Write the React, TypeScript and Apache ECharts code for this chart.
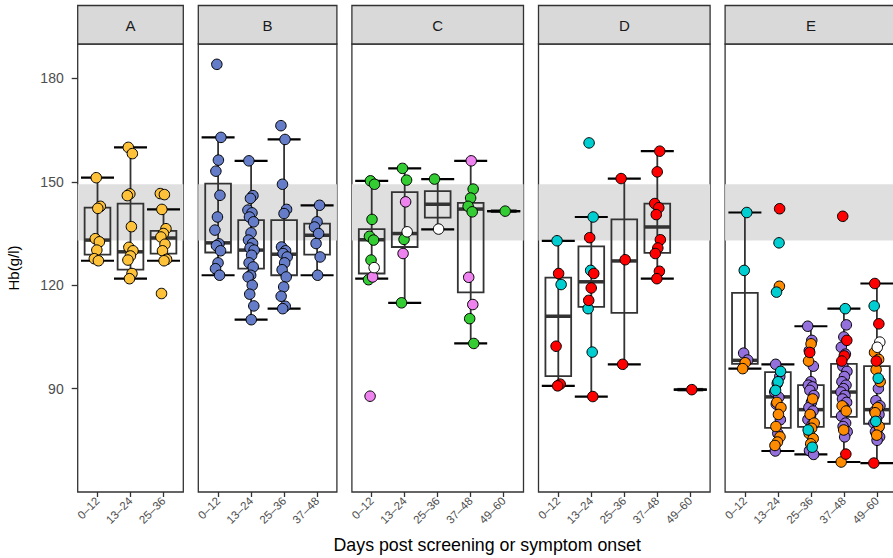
import React, { useEffect, useRef } from "react";
import * as echarts from "echarts";

const FONT = "'Liberation Sans', Arial, Helvetica, sans-serif";

// ---------- categories / labels ----------
const panelNames = ["A", "B", "C", "D", "E"];
const catsA = ["0–12", "13–24", "25–36"];
const catsB = ["0–12", "13–24", "25–36", "37–48"];
const catsC = ["0–12", "13–24", "25–36", "37–48", "49–60"];
const catsD = ["0–12", "13–24", "25–36", "37–48", "49–60"];
const catsE = ["0–12", "13–24", "25–36", "37–48", "49–60"];
const yTicks = [90, 120, 150, 180];
const yRange = [60, 190];
const refBand = [133, 149.3];
const xTitle = "Days post screening or symptom onset";
const yTitle = "Hb(g/l)";

// ---------- panel A ----------
const aYellow = [
  [151.2, 142.9, 142.3, 133.5, 132.6, 130.2, 127.7, 127.1],
  [160, 158.2, 146.5, 146, 137, 131, 130, 128.5, 127.3, 123.4, 121.9],
  [146.6, 146.3, 142, 136.4, 135, 134, 131.9, 130, 127.5, 127.1, 117.6],
];
const aBox = [
  [127.1, 128.9, 133.1, 142.5, 151.2],
  [121.9, 124.5, 129.7, 143.7, 160],
  [127.1, 129.2, 133.7, 135.8, 142],
];

// ---------- panel B ----------
const bBlue = [
  [184.1, 162.9, 156.3, 153.1, 146.1, 139.8, 136, 132, 131.5, 130, 126.5, 124.8, 122.9],
  [156.1, 146, 145.2, 141.8, 141, 139.8, 138.4, 135.2, 133.1, 132.1, 130.8, 130.2, 128.7, 126.5, 125.3, 122.9, 122.4, 120, 117.4, 114, 110],
  [166.3, 162.3, 149.3, 142, 140.8, 131.1, 130, 129.2, 128.2, 126.5, 124.5, 122.4, 119.5, 116.8, 113.9, 113.2],
  [143.2, 138.4, 136.9, 135, 132.1, 128.2, 122.9],
];
const bBox = [
  [122.9, 129.5, 132.3, 149.5, 162.9],
  [110, 124.8, 130.2, 138.9, 156.1],
  [113.2, 122.9, 129, 138.9, 162.3],
  [122.9, 128.9, 134.5, 137.9, 143.2],
];

// ---------- panel C ----------
const cGreen = [
  [150.3, 149.3, 139.1, 134.2, 133.1, 127.3, 121.6],
  [153.9, 150.5, 133.3, 114.9],
  [150.8],
  [147.9, 145.3, 142.9, 141.3, 110.3, 103.1],
  [141.5],
];
const cPink = [[122.4, 87.8], [144.2, 129.2], [], [156.1, 122.3, 114.4], []];
const cWhite = [[125.1], [135.5], [136.3], [], []];
const cBox = [
  [121.9, 123.4, 133.2, 136.3, 150.3],
  [114.9, 131.1, 135, 147, 153.9],
  [136.2, 139.6, 143.5, 147.3, 150.8],
  [103.1, 117.9, 142.1, 143.9, 156.1],
  [141.5, 141.5, 141.5, 141.5, 141.5],
];

// ---------- panel D ----------
const dRed = [
  [123.4, 102.3, 91.3, 90.8],
  [133.8, 123.4, 119.2, 115.6, 87.7],
  [150.95, 127.4, 97.05],
  [158.9, 152.9, 143.7, 142.5, 140.5, 133.2, 130.8, 129.2, 124.05, 121.9],
  [89.7],
];
const dCyan = [[132.9, 120.2], [161.3, 139.8, 124.3, 113.2, 100.6], [], [], []];
const dBox = [
  [90.8, 93.6, 111, 122.2, 132.9],
  [87.7, 113.7, 121, 131.3, 139.8],
  [97.05, 112, 127.05, 139.1, 150.95],
  [121.9, 129.4, 136.9, 143.7, 158.9],
  [89.7, 89.7, 89.7, 89.7, 89.7],
];

// ---------- panel E ----------
const ePurple = [
  [100.3, 98.3],
  [97.05, 93.5, 91.5, 89, 87.5, 85.5, 81, 77, 71.9],
  [108.1, 104, 101, 96.5, 92, 91, 90.5, 89.5, 88, 86, 84.5, 83.5, 82, 81, 79.5, 72, 70.9],
  [108.5, 105, 102, 100, 96.5, 95, 93.5, 92, 91, 90, 89, 88, 87, 86, 84.5, 82, 80, 79, 77.5, 76],
  [90, 86.5, 85, 84, 83.5, 82.5, 81, 80, 78.5, 77.5, 76, 75],
];
const eOrange = [
  [97.5, 95.8],
  [119.7, 86, 84.5, 82.5, 79, 76, 74.5, 73.5],
  [103, 98, 87, 82.5, 80, 78.5, 77, 75.5, 74],
  [85, 83.5, 78, 68.7],
  [100.5, 98.5, 95.5, 92, 84.5, 83, 79, 76.5],
];
const eCyan = [[141.1, 124.3], [132.3, 118, 95, 92, 89.5], [78, 73], [113.2], [114, 93, 80.5]];
const eWhite = [[], [], [], [], [103.5, 102]];
const eRed = [[], [142.2], [100.5], [140, 104, 99.5, 98, 71], [120.5, 108.8, 98, 68.4]];
const eBox = [
  [95.8, 97.2, 98.2, 117.8, 141.1],
  [71.9, 78.6, 87.6, 94.8, 97.05],
  [70.9, 78.9, 83.9, 91, 108.1],
  [68.7, 81.8, 89, 97.2, 113.2],
  [68.4, 79.8, 83.9, 96.5, 120.5],
];

// ---------- styles ----------
const COL = {
  yellow: "#FDC13A",
  blue: "#657DC8",
  green: "#33CC33",
  pink: "#EE82EE",
  white: "#FFFFFF",
  red: "#FF0000",
  cyan: "#00CED1",
  orange: "#FF8C00",
  purple: "#9370DB",
};

const panelCats = [catsA, catsB, catsC, catsD, catsE];
const panelBoxes = [aBox, bBox, cBox, dBox, eBox];
const panelPoints: { fill: string; vals: number[][] }[][] = [
  [{ fill: COL.yellow, vals: aYellow }],
  [{ fill: COL.blue, vals: bBlue }],
  [
    { fill: COL.green, vals: cGreen },
    { fill: COL.pink, vals: cPink },
    { fill: COL.white, vals: cWhite },
  ],
  [
    { fill: COL.cyan, vals: dCyan },
    { fill: COL.red, vals: dRed },
  ],
  [
    { fill: COL.purple, vals: ePurple },
    { fill: COL.orange, vals: eOrange },
    { fill: COL.cyan, vals: eCyan },
    { fill: COL.white, vals: eWhite },
    { fill: COL.red, vals: eRed },
  ],
];

// layout (pixels)
const U = 33;
const GAP = 15;
const LEFT0 = 77.7;
const TOP = 44;
const BOTTOM = 492;
const STRIP_TOP = 5.5;

function jitter(k: number) {
  const f = (k * 0.6180339887 + 0.31) % 1;
  return (f - 0.5) * 0.2;
}

export default function App() {
  const ref = useRef<HTMLDivElement>(null);
  useEffect(() => {
    if (!ref.current) return;
    const chart = echarts.init(ref.current, null, { renderer: "svg" });

    const grids: any[] = [];
    const xAxes: any[] = [];
    const yAxes: any[] = [];
    const series: any[] = [];
    const graphics: any[] = [];

    let left = LEFT0;
    panelCats.forEach((cats, i) => {
      const n = cats.length;
      const width = (n + 0.2) * U;
      const idx = cats.map((_, j) => j);
      grids.push({
        left,
        top: TOP,
        width,
        height: BOTTOM - TOP,
        show: true,
        borderColor: "#333333",
        borderWidth: 1.3,
        backgroundColor: "transparent",
        containLabel: false,
        outerBoundsMode: "none",
      });
      xAxes.push({
        gridIndex: i,
        type: "value",
        min: -0.6,
        max: n - 0.4,
        axisLine: { show: false, onZero: false },
        axisTick: { show: true, customValues: idx, length: 5, lineStyle: { color: "#333333", width: 1.3 } },
        axisLabel: {
          customValues: idx,
          formatter: (v: number) => cats[Math.round(v)] ?? "",
          rotate: 45,
          margin: 7,
          fontSize: 11.5,
          color: "#4D4D4D",
          fontFamily: FONT,
        },
        splitLine: { show: false },
      });
      yAxes.push({
        gridIndex: i,
        type: "value",
        min: yRange[0],
        max: yRange[1],
        show: i === 0,
        axisLine: { show: false, onZero: false },
        axisTick: { show: i === 0, customValues: yTicks, length: 6, lineStyle: { color: "#333333", width: 1.3 } },
        axisLabel: { show: i === 0, customValues: yTicks, margin: 14, fontSize: 14, color: "#4D4D4D", fontFamily: FONT },
        splitLine: { show: false },
        name: i === 0 ? yTitle : "",
        nameLocation: "middle",
        nameRotate: 90,
        nameGap: 57,
        nameTextStyle: { fontSize: 15, color: "#000000", fontFamily: FONT },
      });

      // reference band
      series.push({
        type: "custom",
        xAxisIndex: i,
        yAxisIndex: i,
        z: 1,
        silent: true,
        data: [[0, refBand[0], refBand[1]]],
        encode: { x: 0, y: [1, 2] },
        renderItem: (params: any, api: any) => {
          const cs = params.coordSys;
          const yTop = api.coord([0, api.value(2)])[1];
          const yBot = api.coord([0, api.value(1)])[1];
          return {
            type: "rect",
            shape: { x: cs.x, y: yTop, width: cs.width, height: yBot - yTop },
            style: { fill: "#DFDFDF" },
          };
        },
      });

      // boxes
      series.push({
        type: "custom",
        xAxisIndex: i,
        yAxisIndex: i,
        z: 2,
        silent: true,
        data: panelBoxes[i].map((b, j) => [j, ...b]),
        encode: { x: 0, y: [1, 2, 3, 4, 5] },
        renderItem: (_params: any, api: any) => {
          const ci = api.value(0);
          const lo = api.coord([ci, api.value(1)]);
          const q1 = api.coord([ci, api.value(2)]);
          const md = api.coord([ci, api.value(3)]);
          const q3 = api.coord([ci, api.value(4)]);
          const hi = api.coord([ci, api.value(5)]);
          const bw = api.size([0.78, 0])[0];
          const cw = api.size([1.0, 0])[0];
          const x = md[0];
          return {
            type: "group",
            children: [
              { type: "line", shape: { x1: x, y1: hi[1], x2: x, y2: lo[1] }, style: { stroke: "#333333", lineWidth: 1.8 } },
              {
                type: "rect",
                shape: { x: x - bw / 2, y: q3[1], width: bw, height: q1[1] - q3[1] },
                style: { fill: "transparent", stroke: "#333333", lineWidth: 1.8 },
              },
              { type: "line", shape: { x1: x - bw / 2, y1: md[1], x2: x + bw / 2, y2: md[1] }, style: { stroke: "#333333", lineWidth: 3.5 } },
              { type: "line", shape: { x1: x - cw / 2, y1: hi[1], x2: x + cw / 2, y2: hi[1] }, style: { stroke: "#000000", lineWidth: 2.2 } },
              { type: "line", shape: { x1: x - cw / 2, y1: lo[1], x2: x + cw / 2, y2: lo[1] }, style: { stroke: "#000000", lineWidth: 2.2 } },
            ],
          };
        },
      });

      // points
      const counters = cats.map(() => 0);
      panelPoints[i].forEach((grp) => {
        const data: number[][] = [];
        grp.vals.forEach((vals, ci) => {
          vals.forEach((v) => {
            data.push([ci + jitter(counters[ci] + ci * 3), v]);
            counters[ci] += 1;
          });
        });
        series.push({
          type: "scatter",
          xAxisIndex: i,
          yAxisIndex: i,
          z: 3,
          silent: true,
          symbol: "circle",
          symbolSize: 10.5,
          itemStyle: { color: grp.fill, borderColor: "#000000", borderWidth: 1, opacity: 1 },
          data,
        });
      });

      // strip
      graphics.push({
        type: "rect",
        shape: { x: left, y: STRIP_TOP, width, height: TOP - STRIP_TOP },
        style: { fill: "#D9D9D9", stroke: "#333333", lineWidth: 1.3 },
      });
      graphics.push({
        type: "text",
        x: left + width / 2,
        y: (STRIP_TOP + TOP) / 2 + 0.5,
        style: {
          text: panelNames[i],
          fontSize: 15,
          fontFamily: FONT,
          fill: "#1A1A1A",
          align: "center",
          verticalAlign: "middle",
        },
      });

      left += width + GAP;
    });

    const plotRight = left - GAP;
    graphics.push({
      type: "text",
      x: (LEFT0 + plotRight) / 2,
      y: 545,
      style: {
        text: xTitle,
        fontSize: 17.8,
        fontFamily: FONT,
        fill: "#000000",
        align: "center",
        verticalAlign: "middle",
      },
    });

    chart.setOption({
      animation: false,
      backgroundColor: "#FFFFFF",
      textStyle: { fontFamily: FONT },
      grid: grids,
      xAxis: xAxes,
      yAxis: yAxes,
      series,
      graphic: graphics,
    });

    return () => chart.dispose();
  }, []);

  return (
    <div
      ref={ref}
      style={{ position: "fixed", left: 0, top: 0, width: 893, height: 558, background: "#fff" }}
    />
  );
}
